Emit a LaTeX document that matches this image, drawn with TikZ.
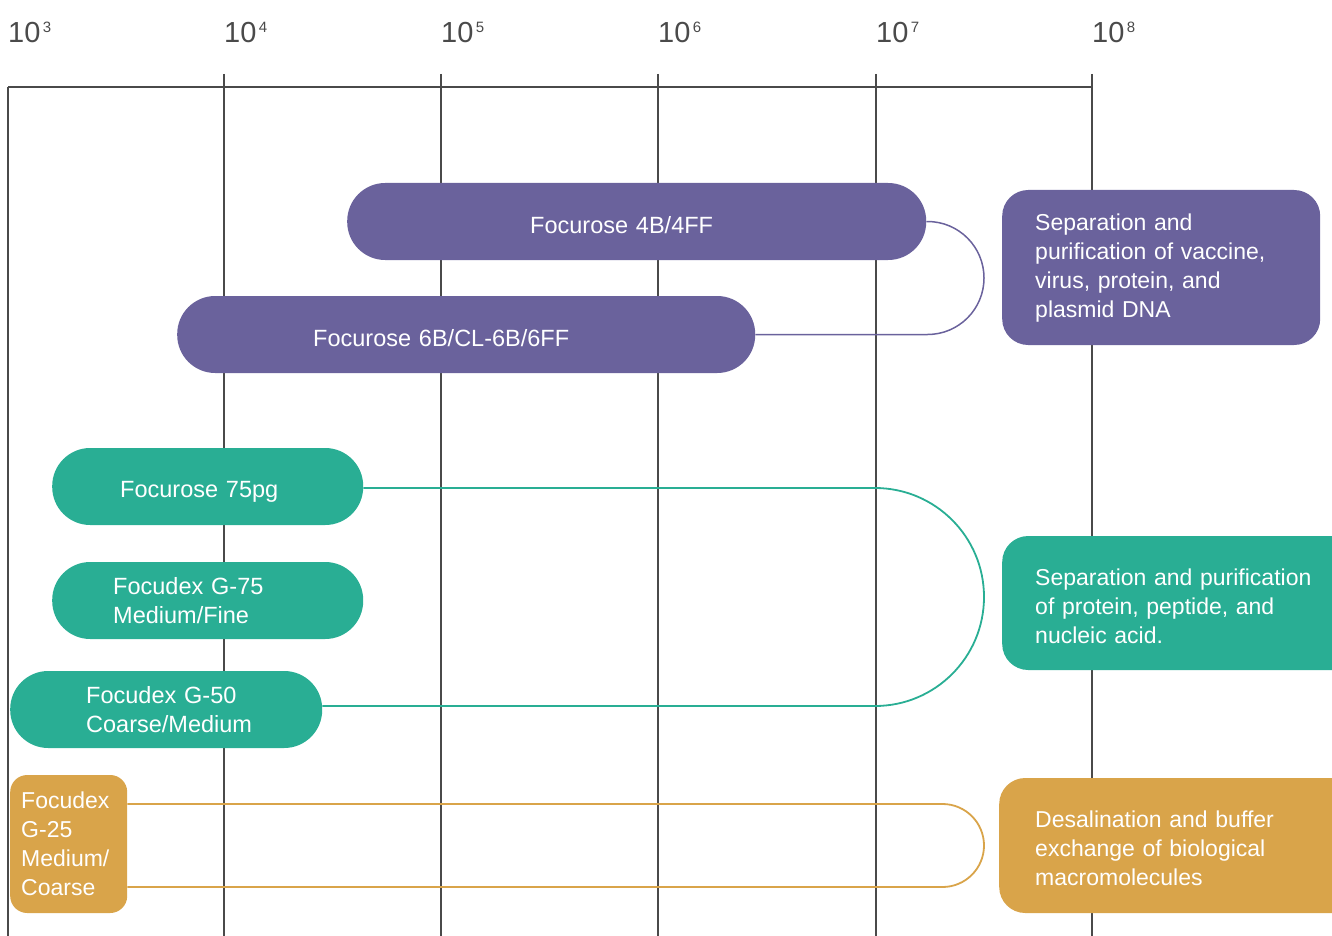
\documentclass[tikz,border=0pt]{standalone}
\usepackage{fontspec}
\setmainfont{Liberation Sans}
\usetikzlibrary{calc}
\definecolor{purp}{HTML}{6A629C}
\definecolor{tealc}{HTML}{29AE94}
\definecolor{goldc}{HTML}{D9A44A}
\definecolor{axisgray}{HTML}{4A4A4A}
\newcommand{\axexp}[1]{10\raisebox{10.5pt}{\fontsize{15}{15}\selectfont\,#1}}
\newcommand{\lowline}[2]{\raisebox{-#1}[0pt][0pt]{#2}}
\begin{document}
\begin{tikzpicture}[x=1pt,y=-1pt,
  gridline/.style={draw=axisgray, line width=1.1pt},
  axislabel/.style={anchor=base west, inner sep=0pt, text=axisgray, font=\fontsize{29}{29}\selectfont},
  pill/.style={fill=#1, rounded corners=38, minimum height=77pt, inner ysep=0pt,
    text=white, align=left, anchor=west, font=\fontsize{23.5}{29}\selectfont},
  infobox/.style={fill=#1, rounded corners=26, inner ysep=0pt,
    text=white, align=left, anchor=west, font=\fontsize{23}{29}\selectfont},
  link/.style={draw=#1, line width=1.8pt}
]
\useasboundingbox (0,0) rectangle (1332,936);

% axis and grid
\draw[gridline] (8,87) -- (1092,87);
\draw[gridline] (8,87) -- (8,936);
\foreach \gx in {224,441,658,876,1092}{
  \draw[gridline] (\gx,74) -- (\gx,936);
}
\node[axislabel] (l3) at (8,43) {\axexp{3}};
\node[axislabel] (l4) at (224,43) {\axexp{4}};
\node[axislabel] (l5) at (441,43) {\axexp{5}};
\node[axislabel] (l6) at (658,43) {\axexp{6}};
\node[axislabel] (l7) at (876,43) {\axexp{7}};
\node[axislabel] (l8) at (1092,43) {\axexp{8}};

% pills
\node[pill=purp, inner xsep=183pt, text width=213pt] (f4) at (347,221.5) {\lowline{12.5pt}{Focurose 4B/4FF}};
\node[pill=purp, inner xsep=136pt, text width=306pt] (f6) at (177,334.5) {\lowline{11.5pt}{Focurose 6B/CL-6B/6FF}};
\node[pill=tealc, inner xsep=68pt, text width=175pt] (p75) at (52,486.5) {\lowline{10.5pt}{Focurose 75pg}};
\node[pill=tealc, inner xsep=61pt, text width=189pt] (g75) at (52,600.5) {Focudex G-75\\Medium/Fine};
\node[pill=tealc, inner xsep=76pt, text width=160pt] (g50) at (10,709.5) {Focudex G-50\\\hbox to 0pt{Coarse/Medium\hss}};
\node[infobox=goldc, rounded corners=17, minimum height=138pt, inner xsep=11pt, text width=95pt] (g25) at (10,844) {Focudex\\G-25\\Medium/\\Coarse};

% right boxes
\node[infobox=purp, minimum height=155pt, inner xsep=33pt, text width=252pt] (rp) at (1002,267.5)
  {\rule{0pt}{17.5pt}Separation and\\purification of vaccine,\\virus, protein, and\\plasmid DNA};
\node[infobox=tealc, minimum height=134pt, inner xsep=33pt, text width=292pt] (rt) at (1002,603)
  {\rule{0pt}{23pt}Separation and purification\\of protein, peptide, and\\nucleic acid.};
\node[infobox=goldc, minimum height=135pt, inner xsep=36pt, text width=289pt] (rg) at (999,845.5)
  {\rule{0pt}{23pt}Desalination and buffer\\exchange of biological\\macromolecules};

% connectors
\coordinate (bend) at (984,500);
\draw[link=purp, line width=1.5pt, rounded corners=56.5]
  (f4.east) -- (f4.east -| bend) -- (f6.east -| bend) -- (f6.east);
\coordinate (tA) at ($(p75.east)+(0,1.5)$);
\coordinate (tB) at ($(g50.east)+(0,-3.5)$);
\draw[link=tealc, rounded corners=109]
  (tA) -- (tA -| bend) -- (tB -| bend) -- (tB);
\coordinate (gA) at ($(g25.east)+(0,-40)$);
\coordinate (gB) at ($(g25.east)+(0,43)$);
\draw[link=goldc, rounded corners=41.5]
  (gA) -- (gA -| bend) -- (gB -| bend) -- (gB);
\end{tikzpicture}
\end{document}
